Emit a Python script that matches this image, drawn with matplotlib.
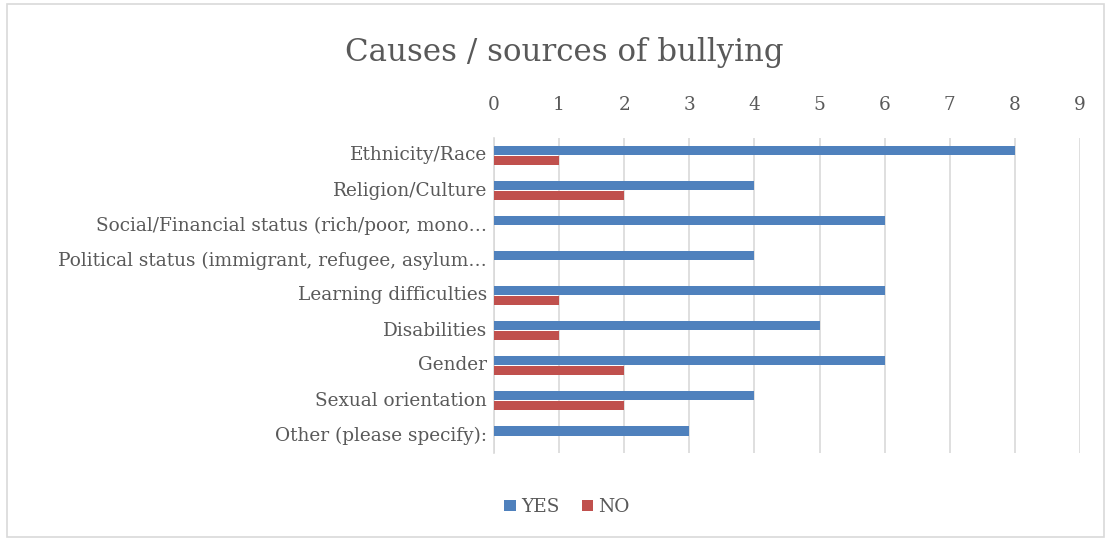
import matplotlib
matplotlib.use("Agg")
import matplotlib.pyplot as plt
from matplotlib.patches import Rectangle
import numpy as np

categories = [
    "Ethnicity/Race",
    "Religion/Culture",
    "Social/Financial status (rich/poor, mono…",
    "Political status (immigrant, refugee, asylum…",
    "Learning difficulties",
    "Disabilities",
    "Gender",
    "Sexual orientation",
    "Other (please specify):",
]
yes_values = [8, 4, 6, 4, 6, 5, 6, 4, 3]
no_values = [1, 2, 0, 0, 1, 1, 2, 2, 0]
x_ticks = list(range(0, 10))

plt.rcParams['font.family'] = ['DejaVu Serif']

fig = plt.figure(figsize=(11.09, 5.41), dpi=100)
ax = fig.add_axes([494/1109, 1 - 453/541, (1080-494)/1109, (453-138)/541])

y = np.arange(len(categories))
h = 0.26
ax.barh(y - h/2, yes_values, height=h, color="#4F81BD", label="YES", zorder=3)
ax.barh(y + h/2, no_values, height=h, color="#C0504D", label="NO", zorder=3)

ax.set_ylim(len(categories) - 0.5, -0.5)
ax.set_xlim(0, 9)
ax.set_xticks(x_ticks)
ax.xaxis.tick_top()
ax.tick_params(axis='x', length=0, labelsize=13.3, colors="#595959", pad=17)
ax.set_yticks(y)
ax.set_yticklabels(categories, va='center')
ax.tick_params(axis='y', length=0, labelsize=13.3, colors="#595959", pad=5)
for lbl in ax.get_yticklabels():
    lbl.set_y(lbl.get_position()[1])
ax.grid(axis='x', color="#D9D9D9", linewidth=1.2, zorder=0)
for s in ['top', 'right', 'bottom']:
    ax.spines[s].set_visible(False)
ax.spines['left'].set_color("#D9D9D9")
ax.spines['left'].set_linewidth(1.2)

fig.text(564/1109, 1 - 52/541, "Causes / sources of bullying", ha='center', va='center',
         fontsize=22.2, color="#595959")

leg = fig.legend(loc='center', bbox_to_anchor=(567/1109, 1 - 507/541), ncol=2, frameon=False,
                 fontsize=13.3, handlelength=0.6, handleheight=0.6, handletextpad=0.3,
                 columnspacing=1.2, labelcolor="#595959")

fig.patches.append(Rectangle((7/1109, 4/541), (1104-7)/1109, (537-4)/541, transform=fig.transFigure,
                             fill=False, edgecolor="#D9D9D9", linewidth=1.2))

fig.savefig("out.png", dpi=100, facecolor="white")
